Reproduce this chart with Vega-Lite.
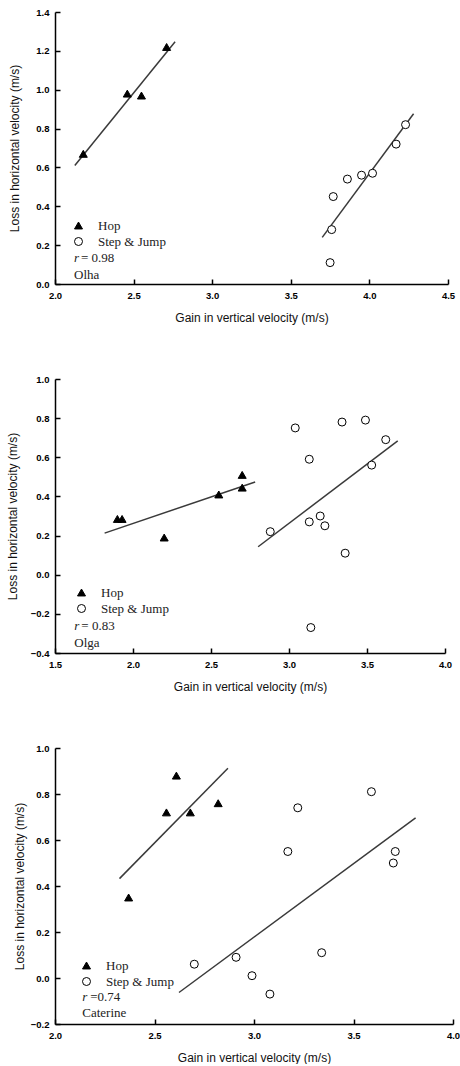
{
  "$schema": "https://vega.github.io/schema/vega-lite/v6.json",
  "background": "white",
  "padding": {"left": 6, "top": 7, "right": 0, "bottom": 0},
  "spacing": 50,
  "config": {
    "view": {"stroke": null},
    "axis": {
      "grid": false,
      "domainColor": "black",
      "domainWidth": 1.5,
      "tickColor": "black",
      "tickWidth": 1.5,
      "tickSize": -5,
      "tickCount": 30,
      "labelFont": "Liberation Sans",
      "labelFontWeight": "bold",
      "labelFontSize": 9.5,
      "labelColor": "black",
      "labelFlush": false,
      "labelOverlap": false,
      "labelBound": false,
      "labelPadding": 11,
      "titleFont": "Liberation Sans",
      "titleFontWeight": "normal",
      "titleFontSize": 12,
      "titleColor": "#111"
    },
    "legend": {
      "title": null,
      "orient": "none",
      "padding": 0,
      "symbolSize": 64,
      "symbolStrokeColor": "black",
      "symbolStrokeWidth": 1,
      "symbolOpacity": 1,
      "labelFont": "Liberation Serif",
      "labelFontSize": 13,
      "labelColor": "#222",
      "labelOffset": 13,
      "rowPadding": 2
    },
    "text": {"font": "Liberation Serif", "fontSize": 13, "color": "#222", "align": "left", "baseline": "middle"}
  },
  "vconcat": [
    {
      "width": 393,
      "height": 272,
      "layer": [
        {
          "data": {"values": [
            {"group": "Hop", "x": 2.126, "y": 0.61},
            {"group": "Hop", "x": 2.764, "y": 1.247},
            {"group": "Step & Jump", "x": 3.70, "y": 0.24},
            {"group": "Step & Jump", "x": 4.281, "y": 0.876}
          ]},
          "mark": {"type": "line", "color": "#3a3a3a", "strokeWidth": 1.5},
          "encoding": {
            "x": {"field": "x", "type": "quantitative", "scale": {"domain": [2, 4.5], "nice": false, "zero": false},
                  "axis": {"values": [2, 2.5, 3, 3.5, 4, 4.5], "tickCount": 30, "format": ".1f", "labelOverlap": false, "title": "Gain in vertical velocity (m/s)", "titlePadding": 13}},
            "y": {"field": "y", "type": "quantitative", "scale": {"domain": [0, 1.4], "nice": false, "zero": false},
                  "axis": {"values": [0, 0.2, 0.4, 0.6, 0.8, 1.0, 1.2, 1.4], "tickCount": 30, "format": ".1f", "labelOverlap": false, "title": "Loss in horizontal velocity (m/s)", "titlePadding": 14}},
            "detail": {"field": "group"}
          }
        },
        {
          "data": {"values": [
            {"group": "Hop", "x": 2.18, "y": 0.67},
            {"group": "Hop", "x": 2.46, "y": 0.98},
            {"group": "Hop", "x": 2.55, "y": 0.97},
            {"group": "Hop", "x": 2.71, "y": 1.22},
            {"group": "Step & Jump", "x": 3.75, "y": 0.11},
            {"group": "Step & Jump", "x": 3.76, "y": 0.28},
            {"group": "Step & Jump", "x": 3.77, "y": 0.45},
            {"group": "Step & Jump", "x": 3.86, "y": 0.54},
            {"group": "Step & Jump", "x": 3.95, "y": 0.56},
            {"group": "Step & Jump", "x": 4.02, "y": 0.57},
            {"group": "Step & Jump", "x": 4.17, "y": 0.72},
            {"group": "Step & Jump", "x": 4.23, "y": 0.82}
          ]},
          "mark": {"type": "point", "stroke": "black", "strokeWidth": 1, "opacity": 1, "size": 64},
          "encoding": {
            "x": {"field": "x", "type": "quantitative"},
            "y": {"field": "y", "type": "quantitative"},
            "shape": {"field": "group", "type": "nominal", "scale": {"domain": ["Hop", "Step & Jump"], "range": ["triangle-up", "circle"]},
                      "legend": {"legendX": 17, "legendY": 207, "encode": {"symbols": {"update": {"stroke": {"value": "black"}, "strokeWidth": {"value": 1}}}}}},
            "fill": {"field": "group", "type": "nominal", "scale": {"domain": ["Hop", "Step & Jump"], "range": ["black", "white"]},
                     "legend": {"legendX": 17, "legendY": 207, "encode": {"symbols": {"update": {"stroke": {"value": "black"}, "strokeWidth": {"value": 1}}}}}}
          }
        },
        {
          "data": {"values": [{"x": 2.121, "y": 0.134, "r": "r", "rest": "= 0.98"}]},
          "mark": {"type": "text", "fontStyle": "italic"},
          "encoding": {"x": {"field": "x", "type": "quantitative"}, "y": {"field": "y", "type": "quantitative"}, "text": {"field": "r"}}
        },
        {
          "data": {"values": [{"x": 2.121, "y": 0.134, "r": "r", "rest": "= 0.98"}]},
          "mark": {"type": "text", "dx": 7},
          "encoding": {"x": {"field": "x", "type": "quantitative"}, "y": {"field": "y", "type": "quantitative"}, "text": {"field": "rest"}}
        },
        {
          "data": {"values": [{"x": 2.121, "y": 0.046, "name": "Olha"}]},
          "mark": {"type": "text"},
          "encoding": {"x": {"field": "x", "type": "quantitative"}, "y": {"field": "y", "type": "quantitative"}, "text": {"field": "name"}}
        }
      ]
    },
    {
      "width": 390,
      "height": 274,
      "layer": [
        {
          "data": {"values": [
            {"group": "Hop", "x": 1.818, "y": 0.2125},
            {"group": "Hop", "x": 2.783, "y": 0.474},
            {"group": "Step & Jump", "x": 2.802, "y": 0.143},
            {"group": "Step & Jump", "x": 3.697, "y": 0.684}
          ]},
          "mark": {"type": "line", "color": "#3a3a3a", "strokeWidth": 1.5},
          "encoding": {
            "x": {"field": "x", "type": "quantitative", "scale": {"domain": [1.5, 4.0], "nice": false, "zero": false},
                  "axis": {"values": [1.5, 2, 2.5, 3, 3.5, 4], "tickCount": 30, "format": ".1f", "labelOverlap": false, "title": "Gain in vertical velocity (m/s)", "titlePadding": 13}},
            "y": {"field": "y", "type": "quantitative", "scale": {"domain": [-0.4, 1.0], "nice": false, "zero": false},
                  "axis": {"values": [-0.4, -0.2, 0, 0.2, 0.4, 0.6, 0.8, 1.0], "tickCount": 30, "format": ".1f", "labelOverlap": false, "title": "Loss in horizontal velocity (m/s)", "titlePadding": 10.5}},
            "detail": {"field": "group"}
          }
        },
        {
          "data": {"values": [
            {"group": "Hop", "x": 1.90, "y": 0.285},
            {"group": "Hop", "x": 1.93, "y": 0.285},
            {"group": "Hop", "x": 2.20, "y": 0.19},
            {"group": "Hop", "x": 2.55, "y": 0.41},
            {"group": "Hop", "x": 2.70, "y": 0.51},
            {"group": "Hop", "x": 2.70, "y": 0.445},
            {"group": "Step & Jump", "x": 2.88, "y": 0.22},
            {"group": "Step & Jump", "x": 3.04, "y": 0.75},
            {"group": "Step & Jump", "x": 3.13, "y": 0.59},
            {"group": "Step & Jump", "x": 3.13, "y": 0.27},
            {"group": "Step & Jump", "x": 3.14, "y": -0.27},
            {"group": "Step & Jump", "x": 3.20, "y": 0.30},
            {"group": "Step & Jump", "x": 3.23, "y": 0.25},
            {"group": "Step & Jump", "x": 3.34, "y": 0.78},
            {"group": "Step & Jump", "x": 3.36, "y": 0.11},
            {"group": "Step & Jump", "x": 3.49, "y": 0.79},
            {"group": "Step & Jump", "x": 3.53, "y": 0.56},
            {"group": "Step & Jump", "x": 3.62, "y": 0.69}
          ]},
          "mark": {"type": "point", "stroke": "black", "strokeWidth": 1, "opacity": 1, "size": 64},
          "encoding": {
            "x": {"field": "x", "type": "quantitative"},
            "y": {"field": "y", "type": "quantitative"},
            "shape": {"field": "group", "type": "nominal", "scale": {"domain": ["Hop", "Step & Jump"], "range": ["triangle-up", "circle"]},
                      "legend": {"legendX": 20, "legendY": 207, "encode": {"symbols": {"update": {"stroke": {"value": "black"}, "strokeWidth": {"value": 1}}}}}},
            "fill": {"field": "group", "type": "nominal", "scale": {"domain": ["Hop", "Step & Jump"], "range": ["black", "white"]},
                     "legend": {"legendX": 20, "legendY": 207, "encode": {"symbols": {"update": {"stroke": {"value": "black"}, "strokeWidth": {"value": 1}}}}}}
          }
        },
        {
          "data": {"values": [{"x": 1.624, "y": -0.262, "r": "r", "rest": "= 0.83"}]},
          "mark": {"type": "text", "fontStyle": "italic"},
          "encoding": {"x": {"field": "x", "type": "quantitative"}, "y": {"field": "y", "type": "quantitative"}, "text": {"field": "r"}}
        },
        {
          "data": {"values": [{"x": 1.624, "y": -0.262, "r": "r", "rest": "= 0.83"}]},
          "mark": {"type": "text", "dx": 7},
          "encoding": {"x": {"field": "x", "type": "quantitative"}, "y": {"field": "y", "type": "quantitative"}, "text": {"field": "rest"}}
        },
        {
          "data": {"values": [{"x": 1.624, "y": -0.349, "name": "Olga"}]},
          "mark": {"type": "text"},
          "encoding": {"x": {"field": "x", "type": "quantitative"}, "y": {"field": "y", "type": "quantitative"}, "text": {"field": "name"}}
        }
      ]
    },
    {
      "width": 398,
      "height": 276,
      "layer": [
        {
          "data": {"values": [
            {"group": "Hop", "x": 2.324, "y": 0.432},
            {"group": "Hop", "x": 2.869, "y": 0.912},
            {"group": "Step & Jump", "x": 2.623, "y": -0.063},
            {"group": "Step & Jump", "x": 3.812, "y": 0.696}
          ]},
          "mark": {"type": "line", "color": "#3a3a3a", "strokeWidth": 1.5},
          "encoding": {
            "x": {"field": "x", "type": "quantitative", "scale": {"domain": [2, 4.0], "nice": false, "zero": false},
                  "axis": {"values": [2, 2.5, 3, 3.5, 4], "tickCount": 30, "format": ".1f", "labelOverlap": false, "title": "Gain in vertical velocity (m/s)", "titlePadding": 13}},
            "y": {"field": "y", "type": "quantitative", "scale": {"domain": [-0.2, 1.0], "nice": false, "zero": false},
                  "axis": {"values": [-0.2, 0, 0.2, 0.4, 0.6, 0.8, 1.0], "tickCount": 30, "format": ".1f", "labelOverlap": false, "title": "Loss in horizontal velocity (m/s)", "titlePadding": 4}},
            "detail": {"field": "group"}
          }
        },
        {
          "data": {"values": [
            {"group": "Hop", "x": 2.37, "y": 0.35},
            {"group": "Hop", "x": 2.56, "y": 0.72},
            {"group": "Hop", "x": 2.61, "y": 0.88},
            {"group": "Hop", "x": 2.68, "y": 0.72},
            {"group": "Hop", "x": 2.82, "y": 0.76},
            {"group": "Step & Jump", "x": 2.70, "y": 0.06},
            {"group": "Step & Jump", "x": 2.91, "y": 0.09},
            {"group": "Step & Jump", "x": 2.99, "y": 0.01},
            {"group": "Step & Jump", "x": 3.08, "y": -0.07},
            {"group": "Step & Jump", "x": 3.17, "y": 0.55},
            {"group": "Step & Jump", "x": 3.22, "y": 0.74},
            {"group": "Step & Jump", "x": 3.34, "y": 0.11},
            {"group": "Step & Jump", "x": 3.59, "y": 0.81},
            {"group": "Step & Jump", "x": 3.70, "y": 0.50},
            {"group": "Step & Jump", "x": 3.71, "y": 0.55}
          ]},
          "mark": {"type": "point", "stroke": "black", "strokeWidth": 1, "opacity": 1, "size": 64},
          "encoding": {
            "x": {"field": "x", "type": "quantitative"},
            "y": {"field": "y", "type": "quantitative"},
            "shape": {"field": "group", "type": "nominal", "scale": {"domain": ["Hop", "Step & Jump"], "range": ["triangle-up", "circle"]},
                      "legend": {"legendX": 25, "legendY": 211, "encode": {"symbols": {"update": {"stroke": {"value": "black"}, "strokeWidth": {"value": 1}}}}}},
            "fill": {"field": "group", "type": "nominal", "scale": {"domain": ["Hop", "Step & Jump"], "range": ["black", "white"]},
                     "legend": {"legendX": 25, "legendY": 211, "encode": {"symbols": {"update": {"stroke": {"value": "black"}, "strokeWidth": {"value": 1}}}}}}
          }
        },
        {
          "data": {"values": [{"x": 2.137, "y": -0.082, "r": "r", "rest": "=0.74"}]},
          "mark": {"type": "text", "fontStyle": "italic"},
          "encoding": {"x": {"field": "x", "type": "quantitative"}, "y": {"field": "y", "type": "quantitative"}, "text": {"field": "r"}}
        },
        {
          "data": {"values": [{"x": 2.137, "y": -0.082, "r": "r", "rest": "=0.74"}]},
          "mark": {"type": "text", "dx": 8},
          "encoding": {"x": {"field": "x", "type": "quantitative"}, "y": {"field": "y", "type": "quantitative"}, "text": {"field": "rest"}}
        },
        {
          "data": {"values": [{"x": 2.137, "y": -0.154, "name": "Caterine"}]},
          "mark": {"type": "text"},
          "encoding": {"x": {"field": "x", "type": "quantitative"}, "y": {"field": "y", "type": "quantitative"}, "text": {"field": "name"}}
        }
      ]
    }
  ],
  "resolve": {"scale": {"shape": "independent", "fill": "independent"}}
}
